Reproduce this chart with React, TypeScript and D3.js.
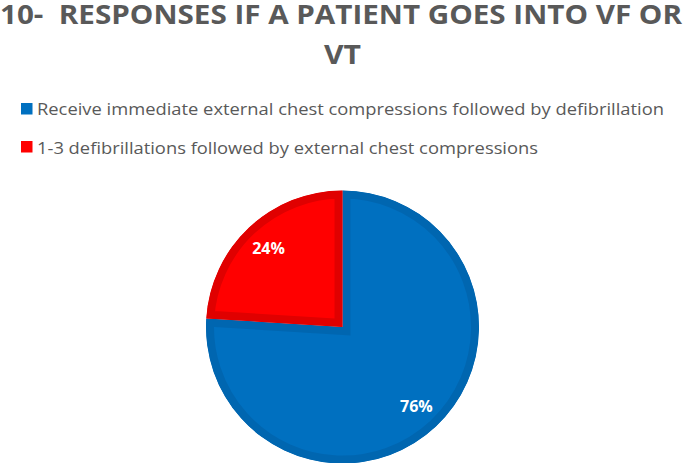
import React from "react";
import * as d3 from "d3";

const categories = [
  "Receive immediate external chest compressions followed by defibrillation",
  "1-3 defibrillations followed by external chest compressions",
];
const values = [76, 24];
const labels = ["76%", "24%"];
const fills = ["#0070C0", "#FF0000"];
const borders = ["#0066B0", "#E00000"];
const titleLines = ["10-\u00A0\u00A0RESPONSES IF A PATIENT GOES INTO VF OR", "VT"];

export default function App() {
  const W = 685, H = 463;
  const cx = 342.5, cy = 327, r = 136.5;
  const pie = d3.pie<number>().sort(null).value((d) => d)(values);
  const arc = d3.arc<d3.PieArcDatum<number>>().innerRadius(0).outerRadius(r);
  const labelArc = d3.arc<d3.PieArcDatum<number>>().innerRadius(108).outerRadius(108);
  const legendY = [103, 141];
  const legendBase = [115, 154];
  return (
    <svg width={W} height={H} style={{ position: "absolute", left: 0, top: 0 }}>
      <defs>
        {pie.map((p, i) => (
          <clipPath id={`clip${i}`} key={i}>
            <path d={arc(p) || ""} transform={`translate(${cx},${cy})`} />
          </clipPath>
        ))}
      </defs>
      <text x={0} y={23.5} textAnchor="start" fontFamily="Open Sans" fontWeight="bold" fontSize={27.5}
        fill="#595959" textLength={682} lengthAdjust="spacingAndGlyphs">{titleLines[0]}</text>
      <text x={W / 2} y={63.5} textAnchor="middle" fontFamily="Open Sans" fontWeight="bold" fontSize={27.5}
        fill="#595959" textLength={37} lengthAdjust="spacingAndGlyphs">{titleLines[1]}</text>
      {categories.map((c, i) => (
        <g key={i}>
          <rect x={21} y={legendY[i]} width={11.5} height={11.5} fill={fills[i]} />
          <text x={37} y={legendBase[i]} fontFamily="Open Sans" fontSize={17} fill="#595959"
            textLength={i === 0 ? 627 : 501} lengthAdjust="spacingAndGlyphs">{c}</text>
        </g>
      ))}
      {pie.map((p, i) => (
        <g key={i} clipPath={`url(#clip${i})`}>
          <path d={arc(p) || ""} transform={`translate(${cx},${cy})`} fill={fills[i]}
            stroke={borders[i]} strokeWidth={16} strokeLinejoin="miter" />
        </g>
      ))}
      {pie.map((p, i) => {
        const [lx, ly] = labelArc.centroid(p);
        return (
          <text key={i} x={cx + lx} y={cy + ly} textAnchor="middle" dominantBaseline="central"
            fontFamily="Open Sans" fontWeight="bold" fontSize={16} fill="#FFFFFF">{labels[i]}</text>
        );
      })}
    </svg>
  );
}
